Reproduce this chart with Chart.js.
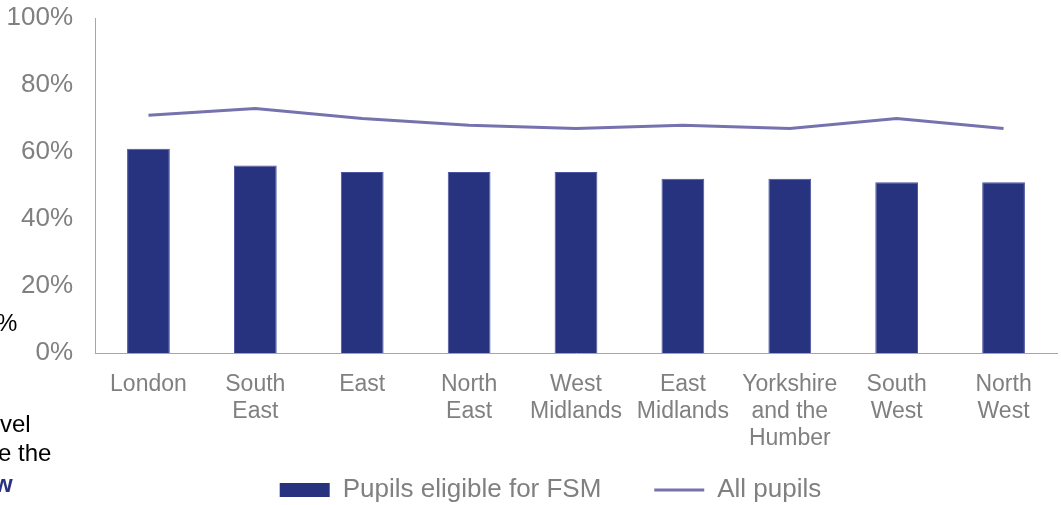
<!DOCTYPE html>
<html>
<head>
<meta charset="utf-8">
<script src="https://cdn.jsdelivr.net/npm/chart.js@4.4.1/dist/chart.umd.min.js"></script>
<style>
    html, body { margin: 0; padding: 0; background: #ffffff; }
    #wrap { position: relative; width: 1061px; height: 505px; overflow: hidden; }
    .frag { position: absolute; left: 0; font-family: "Liberation Sans", Arial, sans-serif; font-size: 24px; color: #000000; white-space: nowrap; }
</style>
</head>
<body>
<div id="wrap">
    <canvas id="regionChart" width="1061" height="505"></canvas>
    <div class="frag" style="top: 309px; left: -4px;">%</div>
    <div class="frag" style="top: 410px;">vel</div>
    <div class="frag" style="top: 439px; left: -2px;">e the</div>
    <div class="frag" style="top: 470px; left: -6px; color: #283380; font-weight: bold;">w</div>
</div>
<script>
const regions = [
    'London',
    ['South', 'East'],
    'East',
    ['North', 'East'],
    ['West', 'Midlands'],
    ['East', 'Midlands'],
    ['Yorkshire', 'and the', 'Humber'],
    ['South', 'West'],
    ['North', 'West']
];
const fsmPupils = [61, 56, 54, 54, 54, 52, 52, 51, 51];
const allPupils = [71, 73, 70, 68, 67, 68, 67, 70, 67];
const yTicks = [0, 20, 40, 60, 80, 100];

document.addEventListener('DOMContentLoaded', function () {
    const ctx = document.getElementById('regionChart').getContext('2d');
    const grey = '#808080';

    // legend sits a little right of centre in the original
    const legendShift = {
        id: 'legendShift',
        afterLayout: function (chart) {
            if (chart.legend) {
                chart.legend.left += 20;
                chart.legend.right += 20;
            }
        }
    };

    new Chart(ctx, {
        data: {
            labels: regions,
            datasets: [
                {
                    type: 'bar',
                    label: 'Pupils eligible for FSM',
                    data: fsmPupils,
                    backgroundColor: '#283380',
                    borderColor: '#4a539c',
                    borderWidth: 1,
                    barPercentage: 0.8,
                    categoryPercentage: 0.5,
                    order: 2
                },
                {
                    type: 'line',
                    label: 'All pupils',
                    data: allPupils,
                    borderColor: '#7672ae',
                    backgroundColor: '#7672ae',
                    borderWidth: 3,
                    pointRadius: 0,
                    pointStyle: 'line',
                    tension: 0,
                    fill: false,
                    order: 1
                }
            ]
        },
        options: {
            responsive: false,
            animation: false,
            layout: {
                padding: { left: 4, right: 4, top: 18, bottom: -8 }
            },
            scales: {
                y: {
                    min: 0,
                    max: 100,
                    afterBuildTicks: function (axis) {
                        axis.ticks = yTicks.map(v => ({ value: v }));
                    },
                    afterFit: function (axis) {
                        axis.width = 91;
                        axis.paddingTop = 0;
                        axis.paddingBottom = 0;
                    },
                    grid: { display: false, drawTicks: false },
                    border: { display: true, color: '#a6a6a6', width: 1 },
                    ticks: {
                        color: grey,
                        padding: 22,
                        font: { family: 'Liberation Sans', size: 26 },
                        callback: v => v + '%'
                    }
                },
                x: {
                    afterFit: function (axis) {
                        axis.height = 100;
                    },
                    grid: { display: false, drawTicks: false },
                    border: { display: true, color: '#a6a6a6', width: 1 },
                    ticks: {
                        color: grey,
                        padding: 18,
                        maxRotation: 0,
                        autoSkip: false,
                        font: { family: 'Liberation Sans', size: 23, lineHeight: 1.17 }
                    }
                }
            },
            plugins: {
                legend: {
                    position: 'bottom',
                    labels: {
                        color: grey,
                        usePointStyle: true,
                        pointStyleWidth: 50,
                        boxHeight: 14,
                        padding: 24,
                        font: { family: 'Liberation Sans', size: 26 },
                        generateLabels: function (chart) {
                            return chart.data.datasets.map((ds, i) => ({
                                // trailing spaces widen the gap before the second item
                                text: i === 0 ? ds.label + '    ' : ds.label,
                                fillStyle: ds.backgroundColor,
                                strokeStyle: ds.type === 'line' ? ds.borderColor : ds.backgroundColor,
                                lineWidth: ds.type === 'line' ? 3 : 0,
                                pointStyle: ds.type === 'line' ? 'line' : 'rect',
                                fontColor: grey,
                                datasetIndex: i,
                                hidden: false
                            }));
                        }
                    }
                },
                tooltip: { enabled: false }
            }
        },
        plugins: [legendShift]
    });
});
</script>
</body>
</html>
